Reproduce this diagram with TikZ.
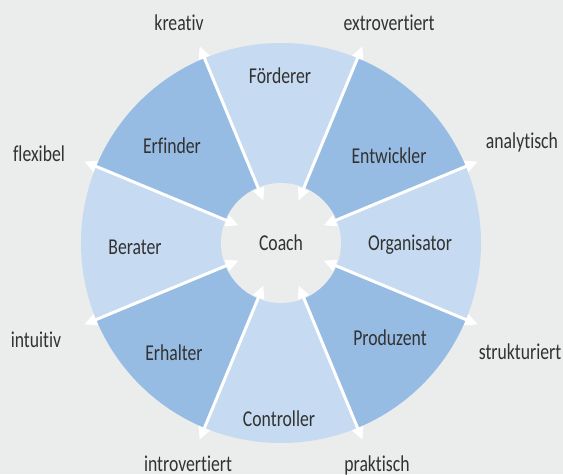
\documentclass[tikz,border=0pt]{standalone}
\usepackage{fontspec}
\setmainfont{Carlito}[FakeStretch=0.78, Ligatures={NoCommon,NoDiscretionary}]
\usetikzlibrary{arrows.meta}

\definecolor{panelgray}{RGB}{235,236,236}
\definecolor{ringlight}{RGB}{198,218,241}
\definecolor{ringdark}{RGB}{151,188,228}
\definecolor{labelgray}{RGB}{50,50,50}

\tikzset{every picture/.style={line width=0.75pt},
  rolle/.style={inner sep=0.75pt, text=labelgray, font=\fontsize{17}{20}\selectfont},
  pfeil/.style={draw=white, line width=2.25pt,
    {Triangle[length=9.5pt,width=8.5pt]}-{Triangle[length=9.5pt,width=8.5pt]}},
}

\begin{document}
\begin{tikzpicture}[x=0.75pt,y=0.75pt,yscale=-1,xscale=1]

%Shape: Rectangle (background)
\fill [panelgray] (0,0) rectangle (563,474);
\useasboundingbox (0,0) rectangle (563,474);

%Shape: Circle (ring)
\fill [ringlight] (281,243) circle (200);
%Shape: Sectors, dark
\fill [ringdark] (281,243) -- ++(-67.5:200) arc (-67.5:-22.5:200) -- cycle;
\fill [ringdark] (281,243) -- ++(22.5:200) arc (22.5:67.5:200) -- cycle;
\fill [ringdark] (281,243) -- ++(112.5:200) arc (112.5:157.5:200) -- cycle;
\fill [ringdark] (281,243) -- ++(202.5:200) arc (202.5:247.5:200) -- cycle;

%Shape: Circle (centre)
\node [rolle, circle, fill=panelgray, minimum size=90pt] (coach) at (281,243) {Coach};

% Arrow ends
\coordinate (analytisch-o) at (477.8,161.5);  \coordinate (analytisch-i) at (323.5,225.4);
\coordinate (extro-o) at (362.5,46.2);        \coordinate (extro-i) at (298.6,200.5);
\coordinate (kreativ-o) at (199.5,46.2);      \coordinate (kreativ-i) at (263.4,200.5);
\coordinate (flexibel-o) at (84.2,161.5);     \coordinate (flexibel-i) at (238.5,225.4);
\coordinate (intuitiv-o) at (84.2,324.5);     \coordinate (intuitiv-i) at (238.5,260.6);
\coordinate (intro-o) at (199.5,439.8);       \coordinate (intro-i) at (263.4,285.5);
\coordinate (praktisch-o) at (362.5,439.8);   \coordinate (praktisch-i) at (298.6,285.5);
\coordinate (struktur-o) at (477.8,324.5);    \coordinate (struktur-i) at (323.5,260.6);

%Straight Lines
\draw [pfeil] (analytisch-o) -- (analytisch-i);
\draw [pfeil] (extro-o) -- (extro-i);
\draw [pfeil] (kreativ-o) -- (kreativ-i);
\draw [pfeil] (flexibel-o) -- (flexibel-i);
\draw [pfeil] (intuitiv-o) -- (intuitiv-i);
\draw [pfeil] (intro-o) -- (intro-i);
\draw [pfeil] (praktisch-o) -- (praktisch-i);
\draw [pfeil] (struktur-o) -- (struktur-i);

% Text Node
\node [rolle] (foerderer) at (280,76) {Förderer};
\node [rolle] (erfinder) at (172,146) {Erfinder};
\node [rolle] (entwickler) at (389,156) {Entwickler};
\node [rolle] (berater) at (135,247) {Berater};
\node [rolle] (organisator) at (410,245) {Organisator};
\node [rolle] (erhalter) at (174,353) {Erhalter};
\node [rolle] (produzent) at (390,338) {Produzent};
\node [rolle] (controller) at (279,419) {Controller};

% Text Node
\node [rolle] (kreativ) at (179,23) {kreativ};
\node [rolle] (extrovertiert) at (389,23) {extrovertiert};
\node [rolle] (analytisch) at (522,142) {analytisch};
\node [rolle] (flexibel) at (39,154) {flexibel};
\node [rolle] (intuitiv) at (36,340) {intuitiv};
\node [rolle] (strukturiert) at (520,352) {strukturiert};
\node [rolle] (introvertiert) at (188,464) {introvertiert};
\node [rolle] (praktisch) at (377,465) {praktisch};

\end{tikzpicture}
\end{document}
